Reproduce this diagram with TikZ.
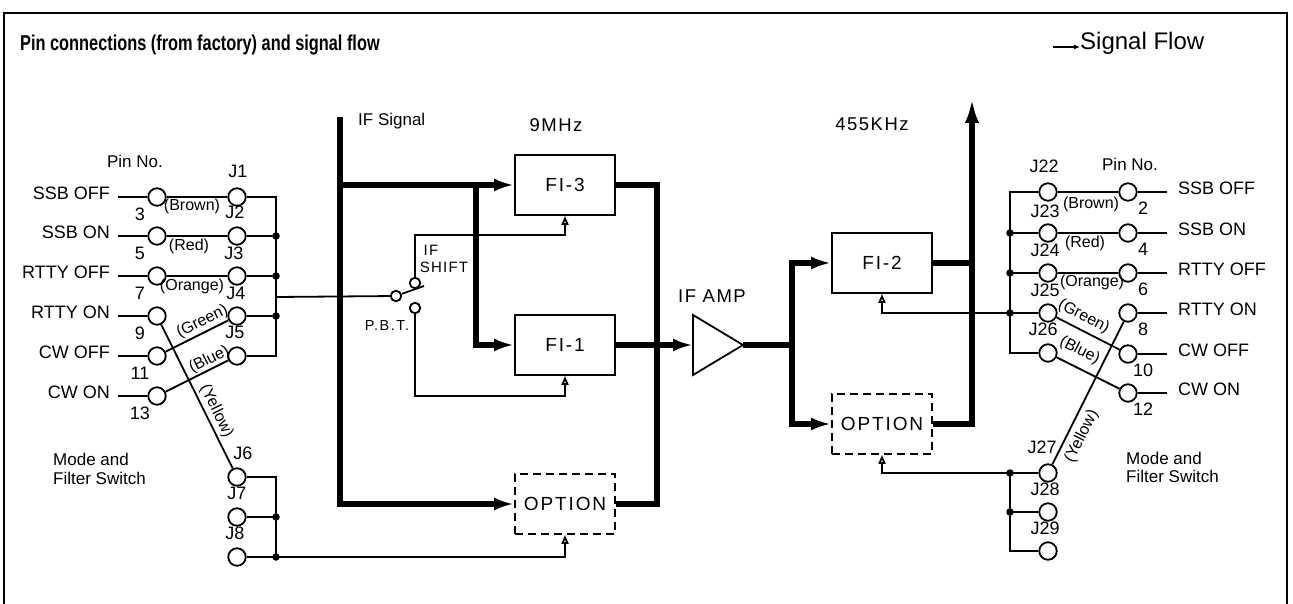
\documentclass[tikz,border=0pt]{standalone}
\usepackage{fontspec}
\setmainfont{Liberation Sans}
\usetikzlibrary{arrows.meta,calc}
\begin{document}
\begin{tikzpicture}[x=1pt,y=-1pt,
  thk/.style={line width=5.5pt},
  thn/.style={line width=1.8pt},
  ctrl/.style={line width=1.8pt,-{Triangle[open,length=9pt,width=7pt]}},
  bigarrow/.style={-{Latex[length=20pt,width=13pt]}},
  pinc/.style={circle,draw,line width=1.8pt,minimum size=17.5pt,inner sep=0pt},
  swc/.style={circle,draw,line width=1.8pt,minimum size=10.5pt,inner sep=0pt},
  jdot/.style={circle,fill,minimum size=7.5pt,inner sep=0pt},
  fbox/.style={draw,line width=1.8pt,minimum width=100pt,minimum height=60pt,inner sep=0pt,font=\fontsize{19}{19}\selectfont\addfontfeature{LetterSpace=10}},
  obox/.style={fbox,dash pattern=on 8pt off 5pt},
  lbl/.style={inner sep=0pt,font=\fontsize{18}{18}\selectfont},
  clr/.style={inner sep=0pt,font=\fontsize{16}{16}\selectfont},
  sml/.style={inner sep=0pt,font=\fontsize{17}{17}\selectfont},
  hdr/.style={inner sep=0pt,font=\fontsize{18.5}{18.5}\selectfont\addfontfeature{LetterSpace=8}}
]
\useasboundingbox (0,0) rectangle (1293,604);
% frame
\draw[thn] (4,604) -- (4,13) -- (1287,13) -- (1287,604);
% title
\node[anchor=mid west,inner sep=0pt] (title) at (20,48) {\scalebox{0.76}[1]{\fontsize{21.5}{21.5}\selectfont\bfseries Pin connections (from factory) and signal flow}};
\coordinate (sfa) at (1053,47);
\node[anchor=mid west,inner sep=0pt,font=\fontsize{24}{24}\selectfont] (sf) at (1080,47) {Signal Flow};
\draw[thn,-{Latex[length=6pt,width=5pt]}] (sfa) -- (sf.mid west);

%% ---------------- left switch ----------------
\node[sml,anchor=mid] (lpinno) at (135,165) {Pin No.};
\foreach \n/\yy/\txt in {3/197/SSB OFF,5/236/SSB ON,7/276/RTTY OFF,9/316/RTTY ON,11/356/CW OFF,13/396/CW ON}{
  \node[pinc] (lp\n) at (157,\yy) {};
  \node[lbl,anchor=mid east] (lt\n) at (110,\yy) {\txt};
  \coordinate (ls\n) at (118,\yy);
  \draw[thn] (ls\n) -- (lp\n);
  \node[lbl,anchor=mid] (ln\n) at (140,\yy+21) {\n};
}
\foreach \n/\yy in {1/197,2/236,3/276,4/316,5/356,6/477,7/517,8/557}{
  \node[pinc] (j\n) at (237,\yy) {};
}
\node[lbl,anchor=mid] (jl1) at (238,175) {J1};
\node[lbl,anchor=mid] (jl2) at (235,216) {J2};
\node[lbl,anchor=mid] (jl3) at (234,257) {J3};
\node[lbl,anchor=mid] (jl4) at (236,297) {J4};
\node[lbl,anchor=mid] (jl5) at (235,336) {J5};
\node[lbl,anchor=mid] (jl6) at (243,457) {J6};
\node[lbl,anchor=mid] (jl7) at (237,497) {J7};
\node[lbl,anchor=mid] (jl8) at (235,537) {J8};
\draw[thn] (lp3) -- (j1);
\draw[thn] (lp5) -- (j2);
\draw[thn] (lp7) -- (j3);
\draw[thn] (lp9) -- (j6);
\draw[thn] (lp11) -- (j4);
\draw[thn] (lp13) -- (j5);
\node[clr,anchor=mid] (cbr) at (192,208) {(Brown)};
\node[clr,anchor=mid] (crd) at (189,248) {(Red)};
\node[clr,anchor=mid] (cor) at (192,288) {(Orange)};
\node[clr,anchor=mid,rotate=26.6] (cgr) at (203,323) {(Green)};
\node[clr,anchor=mid,rotate=26.6] (cbl) at (210,361) {(Blue)};
\node[clr,anchor=mid,rotate=-63.6] (cye) at (215,412) {(Yellow)};
% left bus
\coordinate (bt) at (276,197);
\coordinate (bb) at (276,356);
\node[jdot] (d2) at (276,236) {};
\node[jdot] (d3) at (276,276) {};
\node[jdot] (d4) at (276,316) {};
\coordinate (bo) at (276,297);
\draw[thn] (j1) -- (bt) -- (bb) -- (j5);
\draw[thn] (j2) -- (d2.center);
\draw[thn] (j3) -- (d3.center);
\draw[thn] (j4) -- (d4.center);
\coordinate (bt2) at (276,477);
\node[jdot] (d7) at (276,517) {};
\node[jdot] (d8) at (276,557) {};
\draw[thn] (j6) -- (bt2) -- (d8.center) -- (j8);
\draw[thn] (j7) -- (d7.center);
\node[sml,anchor=mid west] (lmode1) at (53,463) {Mode and};
\node[sml,anchor=mid west] (lmode2) at (53,482) {Filter Switch};

%% ---------------- switch ----------------
\node[swc] (sw0) at (396,296) {};
\node[swc] (sw1) at (415,283) {};
\node[swc] (sw2) at (415,308) {};
\coordinate (lev) at (424,286);
\draw[thn] (bo) -- (sw0);
\draw[thn] (sw0.20) -- (lev);
\node[inner sep=0pt,anchor=mid,font=\fontsize{15}{15}\selectfont\addfontfeature{LetterSpace=8}] (lif) at (431,253) {IF};
\node[inner sep=0pt,anchor=mid,font=\fontsize{15}{15}\selectfont\addfontfeature{LetterSpace=8}] (lshift) at (444,270) {SHIFT};
\node[inner sep=0pt,anchor=mid,font=\fontsize{14.5}{14.5}\selectfont\addfontfeature{LetterSpace=10}] (lpbt) at (387,328) {P.B.T.};

%% ---------------- 9 MHz filters ----------------
\node[fbox] (fi3) at (565,185) {FI-3};
\node[fbox] (fi1) at (565,345) {FI-1};
\node[obox] (opt1) at (565,504) {OPTION};
\node[hdr,anchor=mid] (l9m) at (556,129) {9MHz};
\node[sml,anchor=mid west] (lifs) at (358,123) {IF Signal};
\coordinate (ifs) at (340,117);
\coordinate (ifb) at (340,185);
\coordinate (ifc) at (476,185);
\draw[thk,bigarrow] (ifs) |- (opt1.west);
\draw[thk,bigarrow] (ifb) -- (fi3.west);
\draw[thk,bigarrow] (ifc) |- (fi1.west);
\coordinate (m1) at (657,345);
\draw[thk] (fi3.east) -| (m1) |- (opt1.east);
% control lines
\coordinate (k1) at (565,235);
\coordinate (k2) at (565,396);
\draw[ctrl] (sw1.north) |- (k1) -- (fi3.south);
\draw[ctrl] (sw2.south) |- (k2) -- (fi1.south);
\draw[ctrl] (d8.center) -| (opt1.south);

%% ---------------- IF AMP ----------------
\coordinate (ampin) at (693,345);
\coordinate (ampout) at (743,345);
\draw[thn,line join=miter] (693,315) -- (ampout) -- (693,375) -- cycle;
\node[hdr,anchor=mid] (lamp) at (712,300) {IF AMP};
\draw[thk,bigarrow] (fi1.east) -- (ampin);

%% ---------------- 455 kHz filters ----------------
\node[fbox] (fi2) at (882,263) {FI-2};
\node[obox] (opt2) at (882,424) {OPTION};
\node[hdr,anchor=mid] (l455) at (872,128) {455KHz};
\coordinate (m2) at (792,345);
\draw[thk] (ampout) -- (m2);
\draw[thk,bigarrow] (m2) |- (fi2.west);
\draw[thk,bigarrow] (m2) |- (opt2.west);
\coordinate (outtop) at (972,97);
\draw[thk,-{Latex[length=26pt,width=14pt]}] (opt2.east) -| (outtop);
\draw[thk] (fi2.east) -- (fi2.east -| outtop);

%% ---------------- right switch ----------------
\node[sml,anchor=mid] (rpinno) at (1130,168) {Pin No.};
\foreach \n/\yy/\txt in {2/192/SSB OFF,4/233/SSB ON,6/273/RTTY OFF,8/313/RTTY ON,10/354/CW OFF,12/393/CW ON}{
  \node[pinc] (rp\n) at (1128,\yy) {};
  \node[lbl,anchor=mid west] (rt\n) at (1178,\yy) {\txt};
  \coordinate (rs\n) at (1167,\yy);
  \draw[thn] (rp\n) -- (rs\n);
  \node[lbl,anchor=mid] (rn\n) at (1143,\yy+20) {\n};
}
\foreach \n/\yy in {22/192,23/233,24/273,25/313,26/353,27/473,28/512,29/551}{
  \node[pinc] (j\n) at (1048,\yy) {};
}
\node[lbl,anchor=mid] (jl22) at (1044,170) {J22};
\node[lbl,anchor=mid] (jl23) at (1045,215) {J23};
\node[lbl,anchor=mid] (jl24) at (1045,254) {J24};
\node[lbl,anchor=mid] (jl25) at (1045,294) {J25};
\node[lbl,anchor=mid] (jl26) at (1043,333) {J26};
\node[lbl,anchor=mid] (jl27) at (1042,451) {J27};
\node[lbl,anchor=mid] (jl28) at (1045,493) {J28};
\node[lbl,anchor=mid] (jl29) at (1045,532) {J29};
\draw[thn] (j22) -- (rp2);
\draw[thn] (j23) -- (rp4);
\draw[thn] (j24) -- (rp6);
\draw[thn] (j25) -- (rp10);
\draw[thn] (j26) -- (rp12);
\draw[thn] (j27) -- (rp8);
\node[clr,anchor=mid] (rbr) at (1091,206) {(Brown)};
\node[clr,anchor=mid] (rrd) at (1085,245) {(Red)};
\node[clr,anchor=mid] (ror) at (1092,284) {(Orange)};
\node[clr,anchor=mid,rotate=-27] (rgr) at (1083,318) {(Green)};
\node[clr,anchor=mid,rotate=-27] (rbl) at (1079,352) {(Blue)};
\node[clr,anchor=mid,rotate=63.4] (rye) at (1083,437) {(Yellow)};
% right bus
\coordinate (rbt) at (1010,192);
\coordinate (rbb) at (1010,353);
\node[jdot] (d23) at (1010,233) {};
\node[jdot] (d24) at (1010,273) {};
\node[jdot] (d25) at (1010,313) {};
\draw[thn] (j22) -- (rbt) -- (rbb) -- (j26);
\draw[thn] (j23) -- (d23.center);
\draw[thn] (j24) -- (d24.center);
\draw[thn] (j25) -- (d25.center);
\node[jdot] (d27) at (1010,473) {};
\node[jdot] (d28) at (1010,512) {};
\coordinate (rbb2) at (1010,551);
\draw[thn] (j27) -- (d27.center) -- (rbb2) -- (j29);
\draw[thn] (j28) -- (d28.center);
\draw[ctrl] (d25.center) -| (fi2.south);
\draw[ctrl] (d27.center) -| (opt2.south);
\node[sml,anchor=mid west] (rmode1) at (1126,462) {Mode and};
\node[sml,anchor=mid west] (rmode2) at (1126,480) {Filter Switch};
\end{tikzpicture}
\end{document}
